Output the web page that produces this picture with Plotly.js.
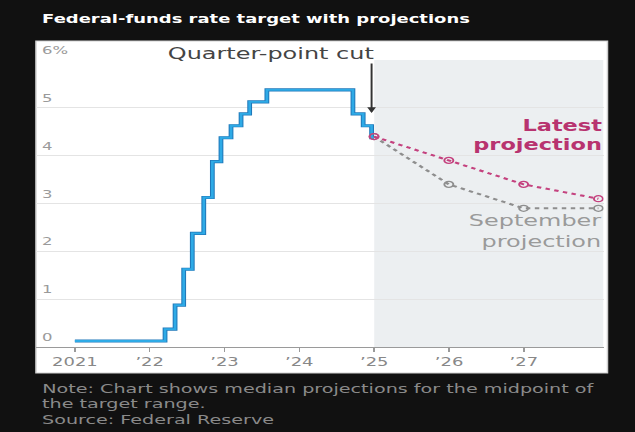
<!DOCTYPE html>
<html>
<head>
<meta charset="utf-8">
<script src="https://cdn.plot.ly/plotly-3.0.1.min.js"></script>
<style>
  html, body { margin: 0; padding: 0; background: #111; overflow: hidden; }
  #wrap { width: 635px; height: 432px; overflow: hidden; }
  /* the chart is laid out narrow and widened to the full frame */
  #chart { width: 424px; height: 432px; transform: scaleX(1.4976); transform-origin: 0 0; }
</style>
</head>
<body>
<div id="wrap"><div id="chart"></div></div>
<script>
// Federal-funds target range midpoint (step changes)
const rateDates = ['2021-01-01','2022-03-17','2022-05-05','2022-06-16','2022-07-28','2022-09-22',
                   '2022-11-03','2022-12-15','2023-02-02','2023-03-23','2023-05-04','2023-07-27',
                   '2024-09-19','2024-11-08','2024-12-19','2024-12-31'];
const rateValues = [0.125,0.375,0.875,1.625,2.375,3.125,3.875,4.375,4.625,4.875,5.125,5.375,
                    4.875,4.625,4.375,4.375];

// Median projections, year-end
const projDates = ['2024-12-31','2025-12-31','2026-12-31','2027-12-31'];
const latestProj = [4.4, 3.9, 3.4, 3.1];
const septemberProj = [4.4, 3.4, 2.9, 2.9];

// Axis ticks
const xTickVals = ['2021-01-01','2022-01-01','2023-01-01','2024-01-01','2025-01-01','2026-01-01','2027-01-01'];
const xTickText = ['2021','\u201922','\u201923','\u201924','\u201925','\u201926','\u201927'];
const yTickVals = [0,1,2,3,4,5,6];
const yTickText = ['0','1','2','3','4','5','6%'];

// Footnote lines
const noteLines = ['Note: Chart shows median projections for the midpoint of',
                   'the target range.',
                   'Source: Federal Reserve'];

const projStart = '2025-01-01';
const xRange = ['2020-06-25','2028-01-25'];

const FONT = 'DejaVu Sans, sans-serif';

const traces = [
  { x: rateDates, y: rateValues, type: 'scatter', mode: 'lines',
    line: { shape: 'hv', color: '#2079ba', width: 3.2 }, hoverinfo: 'skip' },
  { x: rateDates, y: rateValues, type: 'scatter', mode: 'lines',
    line: { shape: 'hv', color: '#2eaae6', width: 1.8 }, hoverinfo: 'skip' },
  { x: projDates, y: septemberProj, type: 'scatter', mode: 'lines+markers',
    line: { color: '#8e8e8e', width: 2, dash: 'dot' },
    marker: { symbol: 'circle-open', size: 6, color: '#8e8e8e', line: { width: 1.3 } } },
  { x: projDates, y: latestProj, type: 'scatter', mode: 'lines+markers',
    line: { color: '#c4417e', width: 2, dash: 'dot' },
    marker: { symbol: 'circle-open', size: 6, color: '#c4417e', line: { width: 1.3 } } }
];

const annotations = [
  { xref: 'paper', yref: 'paper', x: 0.004, y: 1.143, xanchor: 'left', yanchor: 'middle',
    text: '<b>Federal-funds rate target with projections</b>', showarrow: false,
    font: { family: FONT, size: 12, color: '#ffffff' } },
  { xref: 'x', yref: 'paper', x: '2025-01-20', y: 1.024, xanchor: 'right', yanchor: 'middle',
    text: 'Quarter-point cut', showarrow: false,
    font: { family: FONT, size: 16, color: '#444444' } },
  { xref: 'x', yref: 'y', x: '2024-12-19', y: 4.89, ax: 0, ay: -51, text: '',
    showarrow: true, arrowhead: 2, arrowsize: 0.9, arrowwidth: 1.3, arrowcolor: '#333333' },
  { xref: 'paper', yref: 'y', x: 1.003, y: 4.41, xanchor: 'right', yanchor: 'middle', align: 'right',
    text: '<b>Latest<br>projection</b>', showarrow: false,
    font: { family: FONT, size: 15, color: '#b8336f' } },
  { xref: 'paper', yref: 'y', x: 1.003, y: 2.43, xanchor: 'right', yanchor: 'middle', align: 'right',
    text: 'September<br>projection', showarrow: false,
    font: { family: FONT, size: 16, color: '#9a9a9a' } }
];

// footnote, one annotation per line, 15.5 px apart
noteLines.forEach((t, i) => {
  annotations.push({ xref: 'paper', yref: 'paper', x: 0.004, y: -0.143, yshift: -15.5 * i,
    xanchor: 'left', yanchor: 'middle', text: t, showarrow: false,
    font: { family: FONT, size: 12.8, color: '#8a8a8a' } });
});

yTickVals.forEach((v, i) => {
  annotations.push({ xref: 'paper', yref: 'y', x: 0.006, y: v, xanchor: 'left', yanchor: 'bottom',
    yshift: 1, text: yTickText[i], showarrow: false,
    font: { family: FONT, size: 11, color: '#9a9a9a' } });
});

const layout = {
  width: 424, height: 432,
  margin: { l: 24, r: 21, t: 60, b: 85, pad: 0 },
  paper_bgcolor: '#111111', plot_bgcolor: 'rgba(0,0,0,0)',
  showlegend: false,
  xaxis: {
    type: 'date', range: xRange, tickmode: 'array', tickvals: xTickVals, ticktext: xTickText,
    showgrid: false, zeroline: false, showline: true, linecolor: '#9a9a9a', linewidth: 1,
    ticks: 'outside', ticklen: 4, tickcolor: '#9a9a9a', tickwidth: 1,
    tickfont: { family: FONT, size: 12, color: '#888888' }, fixedrange: true
  },
  yaxis: {
    range: [0, 6], tickvals: yTickVals, showticklabels: false, showgrid: true,
    gridcolor: '#e4e4e4', gridwidth: 1, zeroline: false, showline: false, ticks: '', fixedrange: true
  },
  shapes: [
    { type: 'rect', xref: 'paper', yref: 'paper', x0: 0, x1: 1.007, y0: -0.0906, y1: 1.0662,
      fillcolor: '#ffffff', line: { color: '#cfcfcf', width: 1 }, layer: 'below' },
    { type: 'rect', xref: 'x', yref: 'paper', x0: projStart, x1: xRange[1], y0: 0, y1: 1,
      fillcolor: '#eceff1', line: { width: 0 }, layer: 'below' }
  ],
  annotations: annotations
};

Plotly.newPlot('chart', traces, layout, { staticPlot: true, displayModeBar: false });
</script>
</body>
</html>
